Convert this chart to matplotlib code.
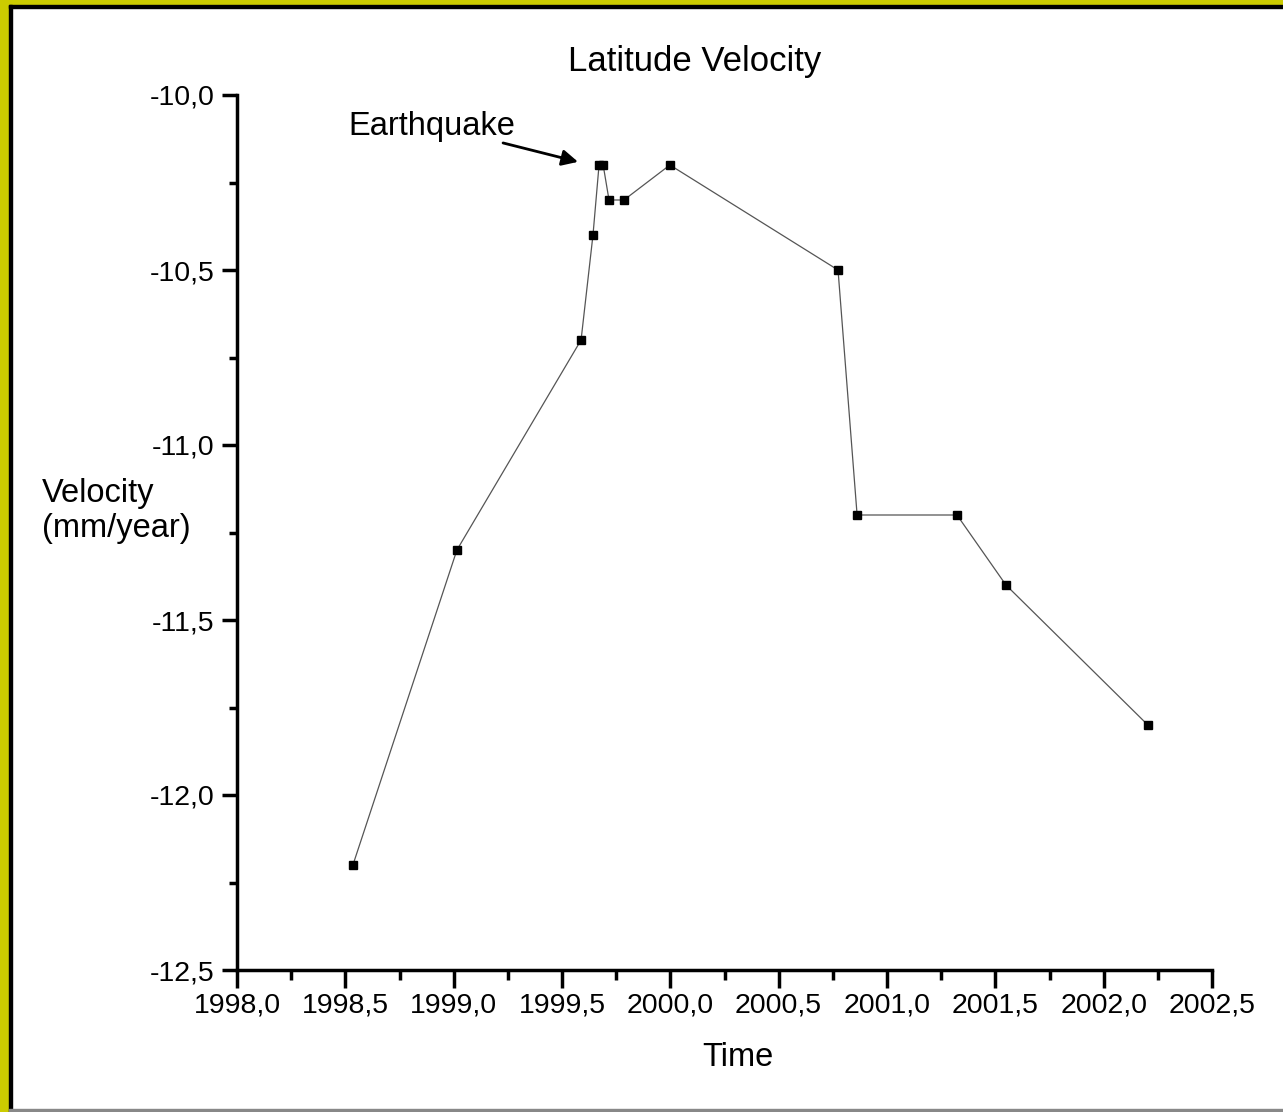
import matplotlib
matplotlib.use("Agg")
import matplotlib.pyplot as plt
from matplotlib.patches import Rectangle
from matplotlib.ticker import MultipleLocator, FuncFormatter

plt.rcParams["font.family"] = ["Liberation Sans", "DejaVu Sans"]

# data
time = [1998.535, 1999.015, 1999.588, 1999.643, 1999.671, 1999.69,
        1999.717, 1999.786, 1999.998, 2000.774, 2000.862, 2001.323,
        2001.549, 2002.204]
velocity = [-12.2, -11.3, -10.7, -10.4, -10.2, -10.2,
            -10.3, -10.3, -10.2, -10.5, -11.2, -11.2,
            -11.4, -11.8]

W, H = 1283, 1112
fig = plt.figure(figsize=(W / 100, H / 100), dpi=100)
fig.patch.set_facecolor("white")

# yellow/black picture frame
def px_rect(x0, y0, w, h, color):
    fig.patches.append(Rectangle((x0 / W, 1 - (y0 + h) / H), w / W, h / H,
                                 transform=fig.transFigure, color=color, zorder=0))

px_rect(0, 0, 9, H, "#cccc00")
px_rect(0, 0, W, 5, "#cccc00")
px_rect(9, 5, 3, H - 5, "black")
px_rect(9, 5, W - 9, 3, "black")
px_rect(9, H - 3, W - 9, 2, "#888888")

ax = fig.add_axes([237 / W, 1 - 970 / H, (1212 - 237) / W, (970 - 95) / H])
ax.plot(time, velocity, color="#555555", lw=0.9, marker="s", ms=6,
        mfc="black", mec="black", zorder=3)

ax.set_xlim(1998.0, 2002.5)
ax.set_ylim(-12.5, -10.0)
ax.spines["top"].set_visible(False)
ax.spines["right"].set_visible(False)
for s in ("left", "bottom"):
    ax.spines[s].set_linewidth(2.5)

comma = FuncFormatter(lambda v, p: f"{v:.1f}".replace(".", ","))
ax.xaxis.set_major_locator(MultipleLocator(0.5))
ax.xaxis.set_minor_locator(MultipleLocator(0.25))
ax.yaxis.set_major_locator(MultipleLocator(0.5))
ax.yaxis.set_minor_locator(MultipleLocator(0.25))
ax.xaxis.set_major_formatter(comma)
ax.yaxis.set_major_formatter(comma)
ax.tick_params(axis="x", which="major", direction="out", length=13, width=2.5,
               labelsize=20.5, pad=3)
ax.tick_params(axis="x", which="minor", direction="out", length=7, width=2.5)
ax.tick_params(axis="y", which="major", direction="out", length=11, width=2.5,
               labelsize=20.5, pad=5)
ax.tick_params(axis="y", which="minor", direction="out", length=6, width=2.5)

fig.text(695 / W, 1 - 62 / H, "Latitude Velocity", ha="center", va="center", fontsize=25)
fig.text(738 / W, 1 - 1057 / H, "Time", ha="center", va="center", fontsize=23.5)
fig.text(42 / W, 1 - 511 / H, "Velocity\n(mm/year)", ha="left", va="center",
         fontsize=23.5, linespacing=1.2)

# earthquake label and arrow
ax.text(1998.515, -10.09, "Earthquake", fontsize=23.5, ha="left", va="center")
ax.annotate("", xy=(1999.574, -10.191), xytext=(1999.228, -10.137),
            arrowprops=dict(arrowstyle="-|>", color="black", lw=2,
                            mutation_scale=24, shrinkA=0, shrinkB=0))

fig.savefig("out.png", dpi=100)
